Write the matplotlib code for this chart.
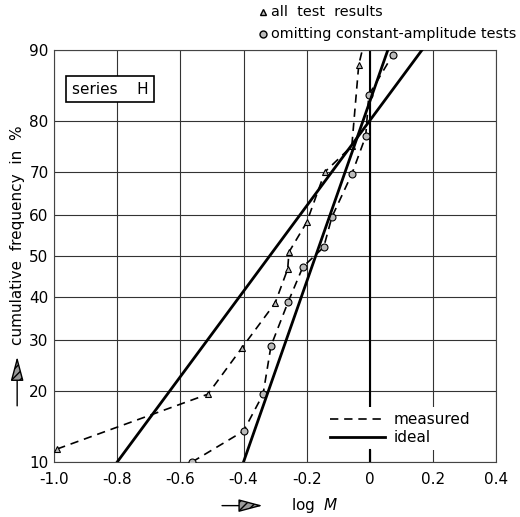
import numpy as np
import matplotlib
matplotlib.use("Agg")
import matplotlib.pyplot as plt
from statistics import NormalDist

# cumulative frequency (%) against log M, series H
all_logm = [-0.99, -0.513, -0.405, -0.30, -0.26, -0.256, -0.20, -0.142, -0.057, -0.035, 0.0]
all_freq = [11.5, 19.5, 28.4, 38.5, 46.8, 51.0, 58.3, 70.0, 75.3, 88.3, 93.0]

omit_logm = [-0.563, -0.40, -0.338, -0.313, -0.259, -0.212, -0.146, -0.12, -0.057, -0.013, -0.003, 0.073]
omit_freq = [10.0, 13.8, 19.5, 28.8, 38.7, 47.3, 52.2, 59.6, 69.5, 77.2, 84.2, 89.5]

# ideal (normal) distributions, given by their 10 % and 90 % points
ideal_all_logm = [-0.80, 0.165]
ideal_omit_logm = [-0.40, 0.057]
ideal_freq = [10, 90]

x_ticks = [-1.0, -0.8, -0.6, -0.4, -0.2, 0.0, 0.2, 0.4]
x_labels = ["-1.0", "-0.8", "-0.6", "-0.4", "-0.2", "0", "0.2", "0.4"]
y_ticks = [10, 20, 30, 40, 50, 60, 70, 80, 90]

_nd = NormalDist()
_ppf = np.vectorize(lambda v: _nd.inv_cdf(v / 100.0), otypes=[float])
_cdf = np.vectorize(lambda v: 100.0 * _nd.cdf(v), otypes=[float])


def prob_fwd(p):
    p = np.clip(np.asarray(p, dtype=float), 0.01, 99.99)
    return _ppf(p)


def prob_inv(z):
    return _cdf(np.asarray(z, dtype=float))


fig = plt.figure(figsize=(5.2, 5.17), dpi=100)
ax = fig.add_axes([0.104, 0.1064, 0.850, 0.7966])
ax.set_yscale("function", functions=(prob_fwd, prob_inv))
ax.set_xlim(-1.0, 0.4)
ax.set_ylim(10, 90)

ax.set_xticks(x_ticks)
ax.set_xticklabels(x_labels)
ax.set_yticks(y_ticks)
ax.set_yticklabels([str(v) for v in y_ticks])
ax.minorticks_off()
ax.tick_params(length=0, labelsize=11)
ax.tick_params(axis="x", pad=7)
ax.tick_params(axis="y", pad=4)
ax.grid(True, color="#333333", lw=0.8)
ax.set_axisbelow(True)
for s in ax.spines.values():
    s.set_color("#444444")
    s.set_linewidth(0.8)

# thick reference line at log M = 0
ax.axvline(0, color="black", lw=1.5, zorder=2)
ax.axvline(0, ymax=0.03, color="black", lw=1.5, zorder=6)

ax.plot(all_logm, all_freq, ls=(0, (5, 3.5)), color="black", lw=1.2,
        marker="^", ms=5, mfc="#bbbbbb", mec="black", mew=0.8, zorder=3)
ax.plot(omit_logm, omit_freq, ls=(0, (5, 3.5)), color="black", lw=1.2,
        marker="o", ms=5, mfc="#bbbbbb", mec="black", mew=0.8, zorder=3)
ax.plot(ideal_all_logm, ideal_freq, color="black", lw=2.0, zorder=3)
ax.plot(ideal_omit_logm, ideal_freq, color="black", lw=2.0, zorder=3)

# line legend
h_meas, = ax.plot([], [], ls=(0, (5, 3.5)), color="black", lw=1.2)
h_ideal, = ax.plot([], [], color="black", lw=2.0)
leg = ax.legend([h_meas, h_ideal], ["measured", "ideal"], loc="lower left",
                bbox_to_anchor=(0.615, 0.03), fontsize=11, handlelength=3.6,
                frameon=True, framealpha=1, facecolor="white", edgecolor="none",
                borderpad=0.3, labelspacing=0.2, handletextpad=0.5, borderaxespad=0)
leg.set_zorder(5)

# series box
ax.text(0.04, 0.905, "series    H", transform=ax.transAxes, fontsize=11,
        va="center", ha="left",
        bbox=dict(boxstyle="square,pad=0.35", fc="white", ec="black", lw=1.2))

# marker legend above the axes
fig.lines.append(plt.Line2D([0.506], [0.977], marker="^", ms=5, mfc="#bbbbbb",
                            mec="black", transform=fig.transFigure, figure=fig))
fig.lines.append(plt.Line2D([0.506], [0.934], marker="o", ms=5, mfc="#bbbbbb",
                            mec="black", transform=fig.transFigure, figure=fig))
fig.text(0.522, 0.977, "all  test  results", fontsize=10.4, va="center")
fig.text(0.522, 0.934, "omitting constant-amplitude tests", fontsize=10.4, va="center")

# axis labels with arrows
fig.text(0.033, 0.545, "cumulative  frequency  in  %", rotation=90, fontsize=11,
         ha="center", va="center")
arrow_style = dict(arrowstyle="-|>,head_length=1.5,head_width=0.4",
                   fc="#999999", ec="black", lw=1.0, hatch="////",
                   shrinkA=0, shrinkB=0)
fig.add_artist(matplotlib.patches.FancyArrowPatch(
    (0.033, 0.215), (0.033, 0.31), transform=fig.transFigure, mutation_scale=10,
    **arrow_style))
fig.add_artist(matplotlib.patches.FancyArrowPatch(
    (0.427, 0.022), (0.505, 0.022), transform=fig.transFigure, mutation_scale=10,
    **arrow_style))
fig.text(0.56, 0.022, "log  $M$", fontsize=11, va="center")

fig.savefig("out.png", dpi=100, facecolor="white")
